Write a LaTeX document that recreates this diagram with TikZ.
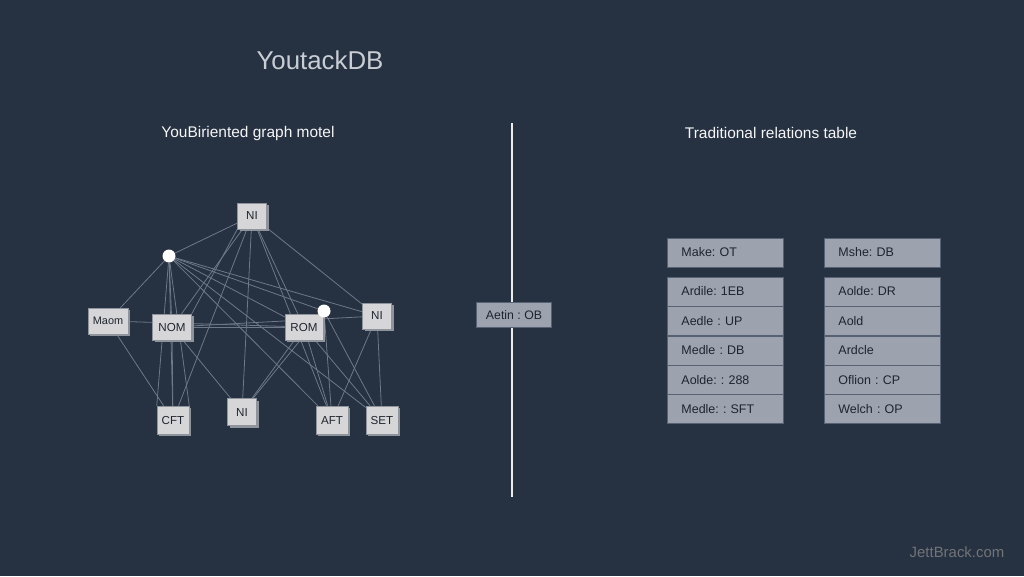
\documentclass[tikz,border=0pt]{standalone}
\usepackage{fontspec}
\setmainfont{Liberation Sans}
\frenchspacing
\usetikzlibrary{shadows}
\pgfdeclarelayer{back}
\pgfdeclarelayer{bg}
\pgfsetlayers{back,bg,main}
\definecolor{bgc}{HTML}{263142}
\definecolor{edgec}{HTML}{6E7888}
\definecolor{boxface}{HTML}{D6D6D8}
\definecolor{boxside}{HTML}{8F949C}
\definecolor{cellc}{HTML}{9CA3AE}
\definecolor{celll}{HTML}{566274}
\definecolor{ink}{HTML}{1E2530}
\definecolor{titlec}{HTML}{C9CDD4}
\tikzset{
  gbox/.style={draw=boxside, line width=0.3pt, fill=boxface, text=ink, inner sep=0pt,
     font=\fontsize{6.6}{7}\selectfont, minimum height=0.52cm,
     drop shadow={shadow xshift=1.3pt, shadow yshift=-1.3pt, fill=boxside, opacity=1}},
  dotn/.style={circle, fill=white, inner sep=0pt, minimum size=0.26cm},
  gedge/.style={draw=edgec, line width=0.45pt},
  cell/.style={draw=celll, line width=0.5pt, fill=cellc, text=ink, anchor=west,
     minimum width=2.32cm, minimum height=0.58cm, inner sep=0pt, text width=2.12cm,
     font=\fontsize{7.1}{8}\selectfont, align=left},
}
\begin{document}
\begin{tikzpicture}[x=0.02cm,y=-0.02cm]
\begin{pgfonlayer}{back}
\fill[bgc] (0,0) rectangle (1024,576);
\end{pgfonlayer}
\useasboundingbox (0,0) rectangle (1024,576);

\node[text=titlec, font=\fontsize{14.7}{16}\selectfont] (title) at (320,60) {YoutackDB};
\node[text=white!92!gray, font=\fontsize{8.8}{10}\selectfont] (subl) at (248,133) {YouBiriented graph motel};
\node[text=white!92!gray, font=\fontsize{8.8}{10}\selectfont] (subr) at (771,133) {Traditional relations table};
\node[text=gray!85!bgc, font=\fontsize{8.5}{10}\selectfont] (wm) at (957,552) {JettBrack.com};

% divider
\coordinate (dvt) at (512,123);
\coordinate (dvb) at (512,497);
\draw[white!85!gray, line width=1.1pt] (dvt) -- (dvb);
\node[draw=celll, line width=0.4pt, fill=cellc, text=ink, font=\fontsize{7}{8}\selectfont,
      minimum width=1.5cm, minimum height=0.5cm, inner sep=0pt] (mid) at (514,315) {Aetin : OB};

% graph nodes
\node[gbox, minimum width=0.58cm] (t) at (252,216) {NI};
\node[dotn] (d1) at (169,256) {};
\node[gbox, minimum width=0.8cm, font=\fontsize{6.2}{7}\selectfont] (maom) at (108,321) {Maom};
\node[gbox, minimum width=0.78cm] (nom) at (172,327) {NOM};
\node[gbox, minimum width=0.76cm] (rom) at (304,327) {ROM};
\node[gbox, minimum width=0.58cm] (nir) at (377,316) {NI};
\node[gbox, minimum width=0.64cm, minimum height=0.56cm] (cft) at (173,420) {CFT};
\node[gbox, minimum width=0.58cm, minimum height=0.54cm] (nib) at (242,412) {NI};
\node[gbox, minimum width=0.64cm, minimum height=0.56cm] (aft) at (332,420) {AFT};
\node[gbox, minimum width=0.64cm, minimum height=0.56cm] (set) at (382,420) {SET};
\node[dotn] (d2) at (324,311) {};

\begin{pgfonlayer}{bg}
\foreach \a/\b in {t/d1, t/nom, t/cft, t/nib, t/rom, t/aft, t/nir,
  d1/maom, d1/nom, d1/cft, d1/rom, d1/d2, d1/nir, d1/aft, d1/set,
  maom/cft, maom/rom, nom/rom, nom/nib, nom/cft, rom/nib, d2/nib,
  rom/aft, rom/set, d2/aft, d2/set, nir/aft, nir/set, nom/nir}
  \draw[gedge] (\a) -- (\b);
\draw[gedge] (t.south west) -- (nom.north east);
\draw[gedge] (d1) -- (cft.north east);
\draw[gedge] (d1) -- (cft.north west);
\end{pgfonlayer}

% tables
\node[cell] (l0) at (667,252.5) {\hspace*{0.18cm}Make: OT};
\node[cell] (l1) at (667,291.5) {\hspace*{0.18cm}Ardile: 1EB};
\node[cell] (l2) at (667,321)   {\hspace*{0.18cm}Aedle : UP};
\node[cell] (l3) at (667,350.5) {\hspace*{0.18cm}Medle : DB};
\node[cell] (l4) at (667,380)   {\hspace*{0.18cm}Aolde: : 288};
\node[cell] (l5) at (667,409)   {\hspace*{0.18cm}Medle: : SFT};
\node[cell] (r0) at (824,252.5) {\hspace*{0.18cm}Mshe: DB};
\node[cell] (r1) at (824,291.5) {\hspace*{0.18cm}Aolde: DR};
\node[cell] (r2) at (824,321)   {\hspace*{0.18cm}Aold};
\node[cell] (r3) at (824,350.5) {\hspace*{0.18cm}Ardcle};
\node[cell] (r4) at (824,380)   {\hspace*{0.18cm}Oflion : CP};
\node[cell] (r5) at (824,409)   {\hspace*{0.18cm}Welch : OP};
\end{tikzpicture}
\end{document}
